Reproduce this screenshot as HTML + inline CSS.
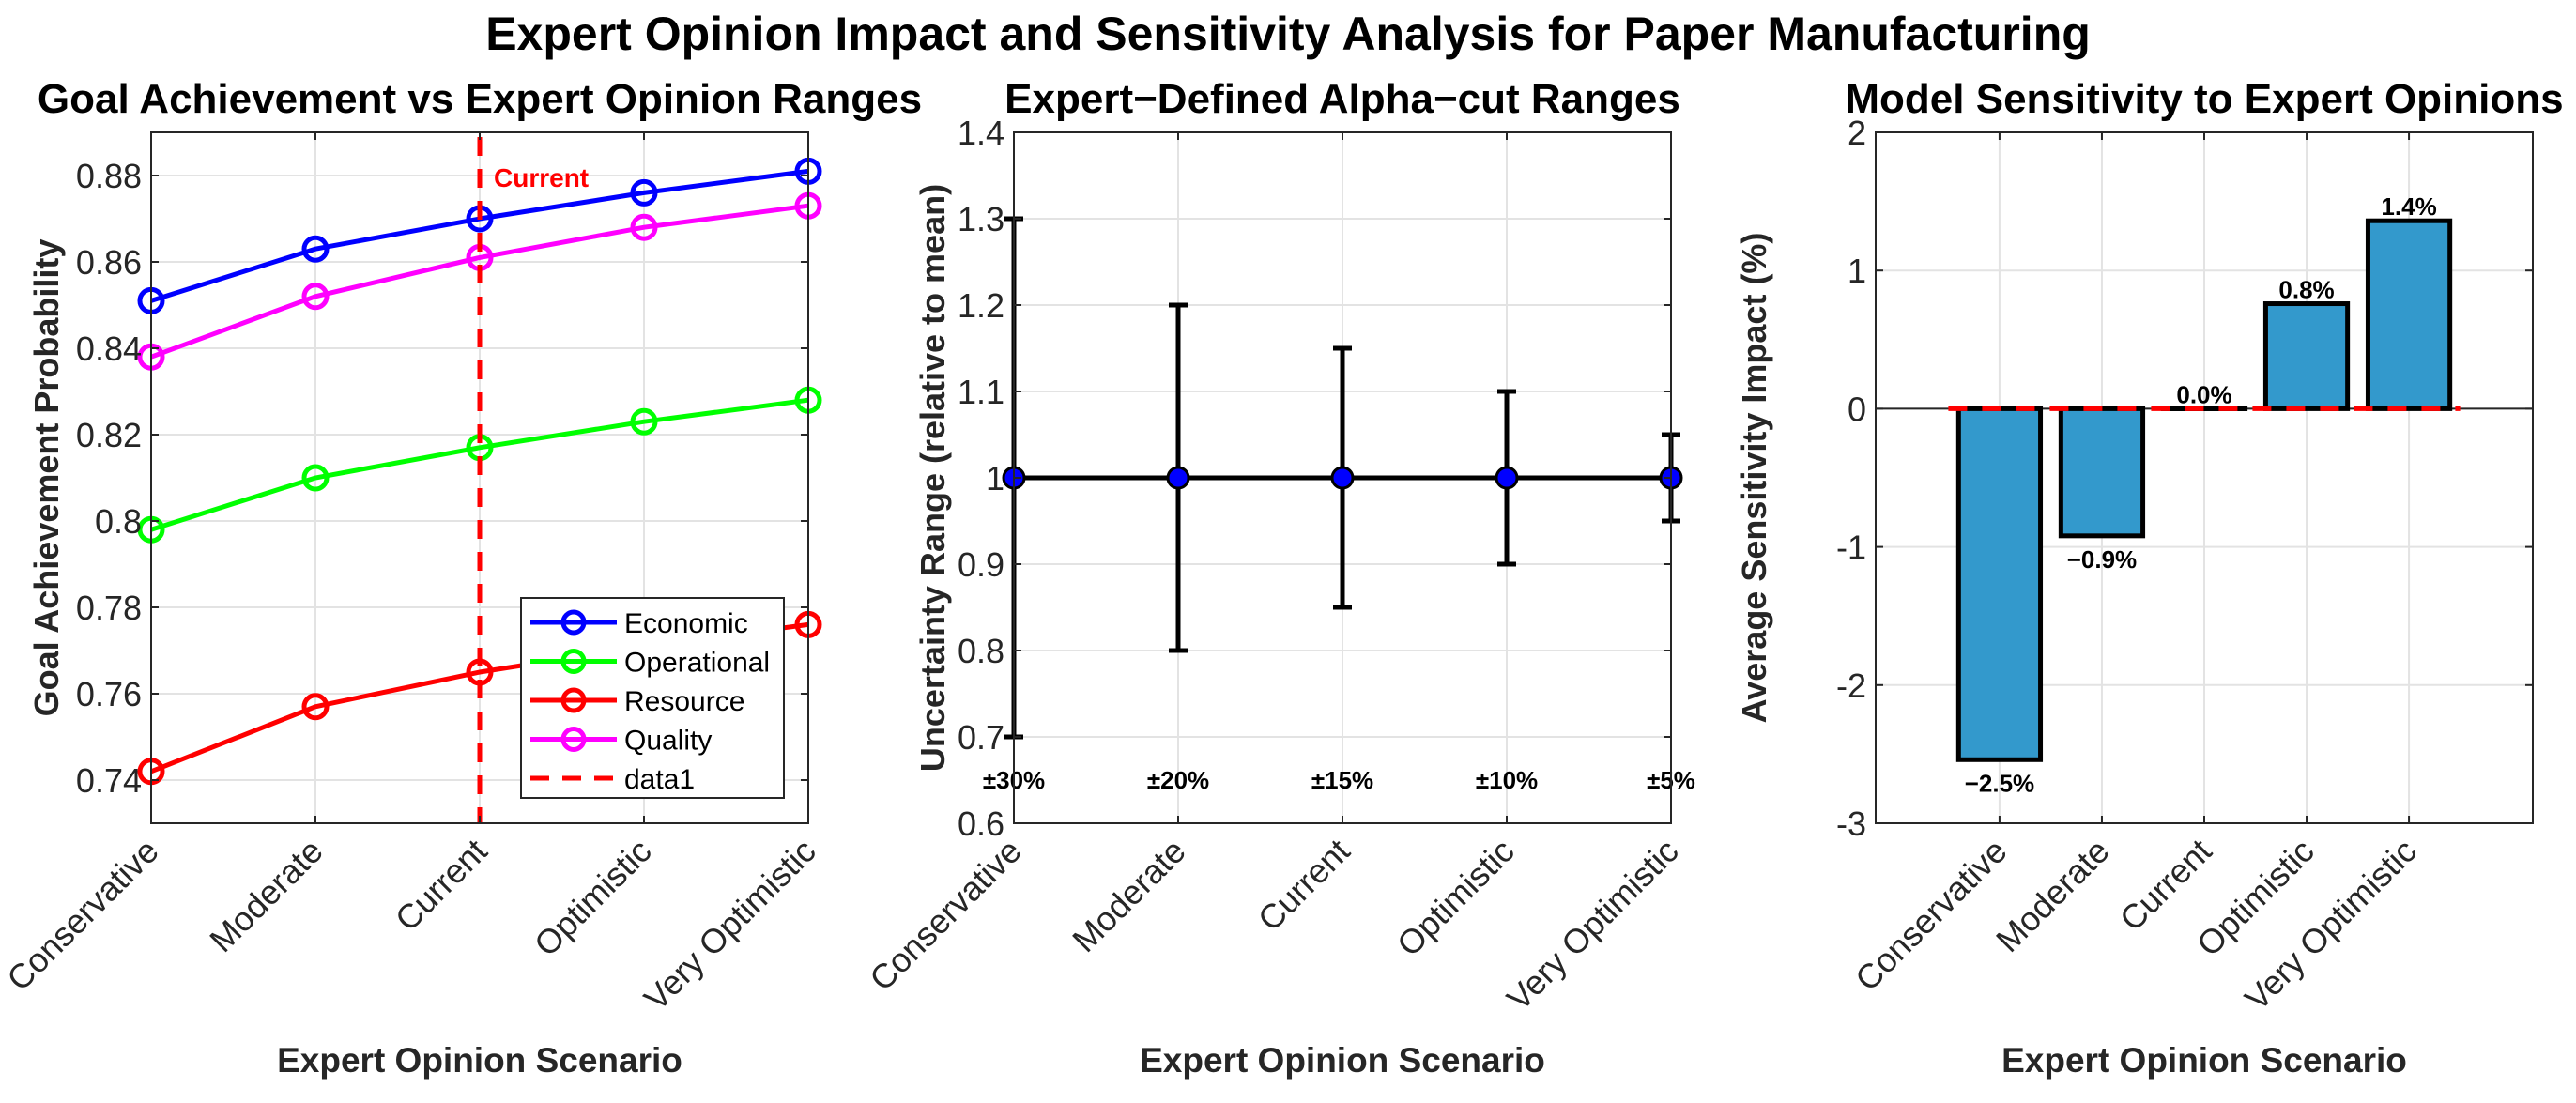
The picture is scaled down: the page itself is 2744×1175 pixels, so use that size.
<!DOCTYPE html>
<html><head><meta charset="utf-8">
<style>
html,body{margin:0;padding:0;background:#fff;}
svg{display:block;font-family:"Liberation Sans",Arial,sans-serif;}
</style></head>
<body>
<svg id="chart" width="2744" height="1175" viewBox="0 0 2744 1175" xmlns="http://www.w3.org/2000/svg">
<rect width="2744" height="1175" fill="#fff"/>
<text x="1372" y="53" text-anchor="middle" font-size="50" font-weight="bold">Expert Opinion Impact and Sensitivity Analysis for Paper Manufacturing</text>
<g id="p1"></g>
<g id="p2"></g>
<g id="p3"></g>
</svg>
<script>
const categories = ["Conservative","Moderate","Current","Optimistic","Very Optimistic"];
const economic = [0.851,0.863,0.870,0.876,0.881];
const operational = [0.798,0.810,0.817,0.823,0.828];
const resource = [0.742,0.757,0.765,0.771,0.776];
const quality = [0.838,0.852,0.861,0.868,0.873];
const leftTicks = [0.74,0.76,0.78,0.80,0.82,0.84,0.86,0.88];
const leftTickLabels = ["0.74","0.76","0.78","0.8","0.82","0.84","0.86","0.88"];
const centerValues = [1,1,1,1,1];
const rangeHalfWidths = [0.30,0.20,0.15,0.10,0.05];
const rangeLabels = ["±30%","±20%","±15%","±10%","±5%"];
const midTicks = [0.6,0.7,0.8,0.9,1.0,1.1,1.2,1.3,1.4];
const midTickLabels = ["0.6","0.7","0.8","0.9","1","1.1","1.2","1.3","1.4"];
const sensitivity = [-2.54,-0.92,0.0,0.76,1.36];
const rightTicks = [-3,-2,-1,0,1,2];
const rightTickLabels = ["-3","-2","-1","0","1","2"];

const NS="http://www.w3.org/2000/svg";
function mk(parent,tag,attrs,text){const e=document.createElementNS(NS,tag);for(const k in attrs)e.setAttribute(k,attrs[k]);if(text!==undefined)e.textContent=text;parent.appendChild(e);return e;}
const TOP=141, BOT=877;

function axes(g,L,R,xmin,xmax,ymin,ymax){
  const sx=v=>L+(v-xmin)/(xmax-xmin)*(R-L);
  const sy=v=>BOT-(v-ymin)/(ymax-ymin)*(BOT-TOP);
  return {sx,sy};
}
function frame(g,L,R,xs,ys,sx,sy){
  mk(g,'rect',{x:L,y:TOP,width:R-L,height:BOT-TOP,fill:'#fff'});
  xs.forEach(v=>{const l=mk(g,'line',{x1:sx(v),x2:sx(v),y1:TOP,y2:BOT,stroke:'#e3e3e3','stroke-width':2});});
  ys.forEach(v=>{const l=mk(g,'line',{x1:L,x2:R,y1:sy(v),y2:sy(v),stroke:'#e3e3e3','stroke-width':2});});
}
function frameBorder(g,L,R,xs,ys,sx,sy,yLabels){
  mk(g,'rect',{x:L,y:TOP,width:R-L,height:BOT-TOP,fill:'none',stroke:'#262626','stroke-width':2});
  xs.forEach(v=>{mk(g,'line',{x1:sx(v),x2:sx(v),y1:BOT,y2:BOT-8,stroke:'#262626','stroke-width':2});mk(g,'line',{x1:sx(v),x2:sx(v),y1:TOP,y2:TOP+8,stroke:'#262626','stroke-width':2});});
  ys.forEach((v,i)=>{mk(g,'line',{x1:L,x2:L+8,y1:sy(v),y2:sy(v),stroke:'#262626','stroke-width':2});mk(g,'line',{x1:R,x2:R-8,y1:sy(v),y2:sy(v),stroke:'#262626','stroke-width':2});
    const t=mk(g,'text',{x:L-10,y:sy(v)+13,'text-anchor':'end','font-size':36,fill:'#262626'},yLabels[i]);});
  xs.forEach((v,i)=>{const x=sx(v);const t=mk(g,'text',{x:x+10,y:BOT+32,'text-anchor':'end','font-size':36,fill:'#262626',transform:`rotate(-45 ${x+10} ${BOT+32})`},categories[i]);});
}
function titles(g,cx,title,ylabel,ylx){
  const t=mk(g,'text',{x:cx,y:120,'text-anchor':'middle','font-size':44,'font-weight':'bold',fill:'#000'},title);
  const xl=mk(g,'text',{x:cx,y:1142,'text-anchor':'middle','font-size':37,'font-weight':'bold',fill:'#262626'},'Expert Opinion Scenario');
  const yl=mk(g,'text',{x:ylx,y:(TOP+BOT)/2,'text-anchor':'middle','font-size':36,'font-weight':'bold',fill:'#262626',transform:`rotate(-90 ${ylx} ${(TOP+BOT)/2})`},ylabel);
}

// Panel 1
(function(){
  const g=document.getElementById('p1');const L=161,R=861;
  const {sx,sy}=axes(g,L,R,1,5,0.73,0.89);
  const xs=[1,2,3,4,5];
  frame(g,L,R,xs,leftTicks,sx,sy);
  const series=[[economic,'#0000ff','economic'],[operational,'#00ff00','operational'],[resource,'#ff0000','resource'],[quality,'#ff00ff','quality']];
  series.forEach(([d,c,n])=>{
    const pts=d.map((v,i)=>sx(i+1)+','+sy(v)).join(' ');
    const pl=mk(g,'polyline',{points:pts,fill:'none',stroke:c,'stroke-width':5});
    
    
    d.forEach((v,i)=>{const m=mk(g,'circle',{cx:sx(i+1),cy:sy(v),r:12,fill:'none',stroke:c,'stroke-width':5});
      
      });
  });
  const cl=mk(g,'line',{x1:sx(3),x2:sx(3),y1:TOP+5,y2:BOT,stroke:'#ff0000','stroke-width':5,'stroke-dasharray':'20 14'});
  
  const ct=mk(g,'text',{x:sx(3)+15,y:199,'font-size':28,'font-weight':'bold',fill:'#ff0000'},'Current');
  
  frameBorder(g,L,R,xs,leftTicks,sx,sy,leftTickLabels);
  const lg=mk(g,'g',{});
  mk(lg,'rect',{x:555,y:637,width:280,height:213,fill:'#fff',stroke:'#262626','stroke-width':2});
  const ents=[['Economic','#0000ff',false],['Operational','#00ff00',false],['Resource','#ff0000',false],['Quality','#ff00ff',false],['data1','#ff0000',true]];
  ents.forEach(([lab,c,dash],i)=>{const y=663+i*41.5;
    const e=mk(lg,'g',{});
    mk(e,'line',{x1:565,x2:657,y1:y,y2:y,stroke:c,'stroke-width':5,'stroke-dasharray':dash?'20 14':'none'});
    if(!dash)mk(e,'circle',{cx:611,cy:y,r:11,fill:'none',stroke:c,'stroke-width':5});
    mk(e,'text',{x:665,y:y+11,'font-size':30,fill:'#000'},lab);});
  titles(g,511,'Goal Achievement vs Expert Opinion Ranges','Goal Achievement Probability',62);
})();

// Panel 2
(function(){
  const g=document.getElementById('p2');const L=1080,R=1780;
  const {sx,sy}=axes(g,L,R,1,5,0.6,1.4);
  const xs=[1,2,3,4,5];
  frame(g,L,R,xs,midTicks,sx,sy);
  const pts=centerValues.map((v,i)=>sx(i+1)+','+sy(v)).join(' ');
  const pl=mk(g,'polyline',{points:pts,fill:'none',stroke:'#000','stroke-width':5});
  
  centerValues.forEach((v,i)=>{const x=sx(i+1),lo=sy(v-rangeHalfWidths[i]),hi=sy(v+rangeHalfWidths[i]);
    const eb=mk(g,'g',{stroke:'#000','stroke-width':5});
    
    
    mk(eb,'line',{x1:x,x2:x,y1:lo,y2:hi});mk(eb,'line',{x1:x-10,x2:x+10,y1:lo,y2:lo});mk(eb,'line',{x1:x-10,x2:x+10,y1:hi,y2:hi});
    const m=mk(g,'circle',{cx:x,cy:sy(v),r:11,fill:'#0000ff',stroke:'#000','stroke-width':3});
    
    
    const t=mk(g,'text',{x:x,y:sy(0.65)+9,'text-anchor':'middle','font-size':26,'font-weight':'bold',fill:'#000'},rangeLabels[i]);
    
    
  });
  frameBorder(g,L,R,xs,midTicks,sx,sy,midTickLabels);
  titles(g,1430,'Expert\u2212Defined Alpha\u2212cut Ranges','Uncertainty Range (relative to mean)',1006);
})();

// Panel 3
(function(){
  const g=document.getElementById('p3');const L=1998,R=2698;
  const {sx,sy}=axes(g,L,R,-0.21,6.21,-3,2);
  const xs=[1,2,3,4,5];
  frame(g,L,R,xs,rightTicks,sx,sy);
  mk(g,'line',{x1:L,x2:R,y1:sy(0),y2:sy(0),stroke:'#262626','stroke-width':2});
  sensitivity.forEach((v,i)=>{const w=sx(1.8)-sx(1);const x=sx(i+1)-w/2;
    const y=Math.min(sy(v),sy(0)),h=Math.abs(sy(v)-sy(0));
    const b=mk(g,'rect',{x:x,y:y,width:w,height:Math.max(h,0.1),fill:'#3399cc',stroke:'#000','stroke-width':5});
    
    
    const s=(v<0?'\u2212':'')+Math.abs(v).toFixed(1)+'%';
    const ty=v<0?sy(v)+34:sy(v)-6;
    const t=mk(g,'text',{x:sx(i+1),y:ty,'text-anchor':'middle','font-size':26,'font-weight':'bold',fill:'#000'},s);
    
    
  });
  const zl=mk(g,'line',{x1:sx(0.5),x2:sx(5.5),y1:sy(0),y2:sy(0),stroke:'#ff0000','stroke-width':5,'stroke-dasharray':'20 16'});
  
  frameBorder(g,L,R,xs,rightTicks,sx,sy,rightTickLabels);
  titles(g,2348,'Model Sensitivity to Expert Opinions','Average Sensitivity Impact (%)',1881);
})();
</script>
</body></html>
